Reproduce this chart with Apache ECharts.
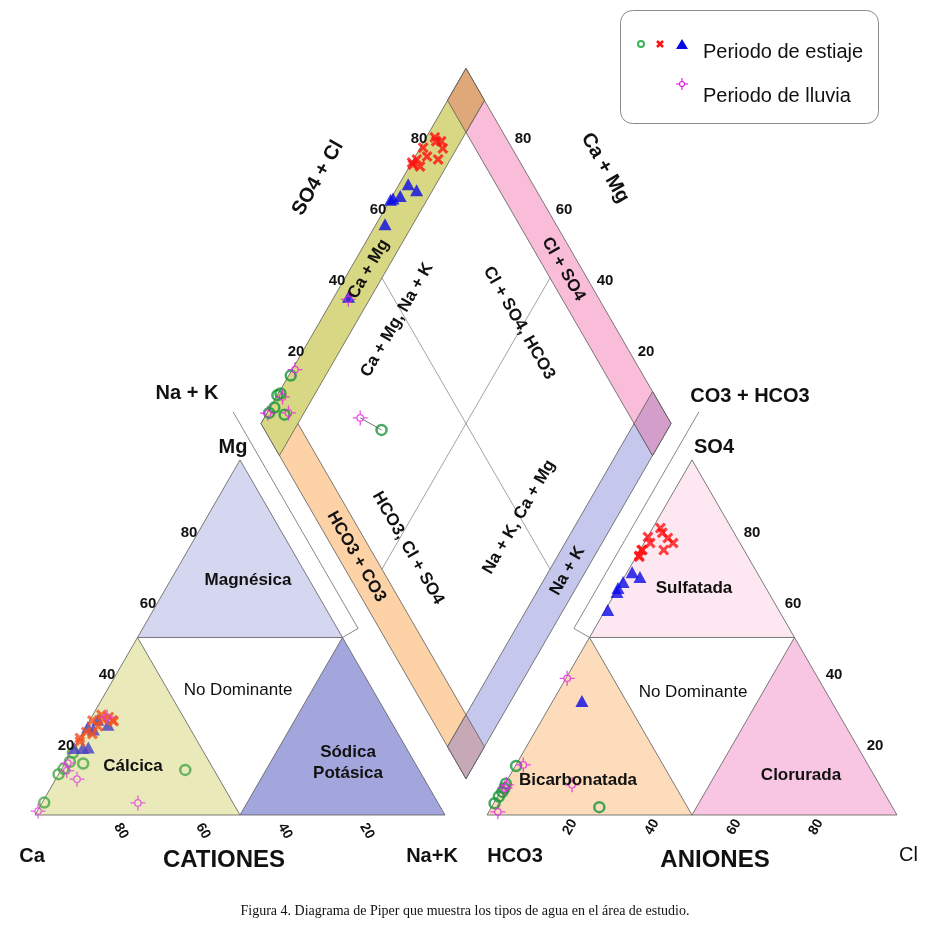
<!DOCTYPE html>
<html>
<head>
<meta charset="utf-8">
<title>Diagrama de Piper</title>
<script src="https://cdn.jsdelivr.net/npm/echarts@6/dist/echarts.min.js"></script>
<style>
html, body { margin: 0; padding: 0; background: #fff; }
#container { width: 927px; height: 935px; }
</style>
</head>
<body>
<div id="container"></div>
<script>
// muestras: [Ca, Mg, Na+K, HCO3, SO4, Cl] en % meq
var estiajeCirculos = [
    [96.0, 3.5, 0.5, 96.5, 3.3, 0.2],
    [86.5, 13.0, 0.5, 91.0, 8.8, 0.2],
    [81.0, 14.5, 4.5, 93.0, 6.5, 0.5],
    [82.0, 17.5, 0.5, 86.0, 13.8, 0.2],
    [84.0, 15.0, 1.0, 94.5, 5.2, 0.3],
    [88.5, 11.5, 0.0, 92.0, 7.5, 0.5],
    [57.0, 12.7, 30.3, 71.5, 2.2, 26.3]
]
var estiajeCruces = [
    [69.7, 28.2, 2.1, 17.3, 80.8, 1.9],
    [72.7, 26.6, 0.7, 21.6, 78.3, 0.1],
    [67.7, 26.7, 5.6, 16.9, 78.0, 5.1],
    [72.1, 25.0, 2.9, 21.9, 76.6, 1.5],
    [75.8, 23.4, 0.8, 24.8, 74.6, 0.6],
    [78.7, 20.7, 0.6, 26.5, 72.7, 0.8],
    [74.6, 22.8, 2.6, 25.0, 74.6, 0.4],
    [67.6, 26.4, 6.0, 19.6, 74.6, 5.8],
    [78.2, 21.7, 0.1, 26.4, 73.0, 0.6],
    [68.2, 27.6, 4.2, 16.3, 76.6, 7.1],
    [70.0, 27.0, 3.0, 17.5, 79.5, 3.0]
]
var estiajeTriangulos = [
    [74.7, 24.8, 0.5, 36.1, 63.9, 0.0],
    [71.3, 26.8, 1.9, 34.0, 65.6, 0.4],
    [69.5, 25.4, 5.1, 29.2, 67.0, 3.8],
    [73.7, 24.1, 2.2, 30.4, 68.4, 1.2],
    [78.9, 18.9, 2.2, 41.7, 57.7, 0.6],
    [77.5, 19.0, 3.5, 60.8, 32.1, 7.1],
    [81.0, 18.9, 0.1, 36.9, 62.8, 0.3]
]
var lluvia = [
    [98.7, 1.1, 0.2, 96.9, 0.9, 2.2],
    [84.7, 10.1, 5.2, 91.8, 7.6, 0.6],
    [84.7, 14.6, 0.7, 84.1, 14.1, 1.8],
    [68.6, 27.6, 3.8, 61.2, 38.5, 0.3],
    [73.2, 3.4, 23.4, 75.0, 8.5, 16.5],
    [86.0, 12.5, 1.5, 91.0, 8.5, 0.5]
]
// mismo sitio en los dos periodos (unidos en el rombo)
var enlace = [6, 4]
var ticks = [20, 40, 60, 80]

// geometria: 1 unidad = 1 %, 4.1 px por unidad
var U = 4.1, OX = 35, OY = 815, ANCHO = 927, ALTO = 935
var S3 = Math.sqrt(3) / 2
var GAP = 42 / U
var RX = 100 + GAP
var BX = 100 + GAP / 2, BY = GAP * S3
var BANDA = 9

function cation(ca, mg, nak){ return [nak + mg / 2, mg * S3] }
function anion(hco3, so4, cl){ return [RX + cl + so4 / 2, so4 * S3] }
function rombo(camg, so4cl){ return [BX + (so4cl - camg) / 2, BY + (camg + so4cl) * S3] }
function enRombo(m){ return rombo(m[0] + m[1], m[4] + m[5]) }

var LINEA = '#5a5a5a'
var shapes = []
function poly(pts, fill){ shapes.push({kind: 'polygon', pts: pts, fill: fill, stroke: LINEA, lw: 0.8}) }
function linea(pts, stroke, lw){ shapes.push({kind: 'polyline', pts: pts, stroke: stroke, lw: lw}) }

// zonas de los triangulos
var zonasCationes = [
    {v: [[100, 0, 0], [50, 0, 50], [50, 50, 0]], color: '#e9e9ba'},
    {v: [[0, 100, 0], [50, 50, 0], [0, 50, 50]], color: '#d5d6ef'},
    {v: [[0, 0, 100], [0, 50, 50], [50, 0, 50]], color: '#a3a5dd'}
]
var zonasAniones = [
    {v: [[100, 0, 0], [50, 50, 0], [50, 0, 50]], color: '#fcdcbb'},
    {v: [[0, 100, 0], [50, 50, 0], [0, 50, 50]], color: '#fde8f2'},
    {v: [[0, 0, 100], [0, 50, 50], [50, 0, 50]], color: '#f8c6e2'}
]
zonasCationes.forEach(function(z){ poly(z.v.map(function(p){ return cation(p[0], p[1], p[2]) }), z.color) })
zonasAniones.forEach(function(z){ poly(z.v.map(function(p){ return anion(p[0], p[1], p[2]) }), z.color) })

// franjas del rombo  [Ca+Mg, SO4+Cl]
var franjas = [
    {v: [[0, 0], [100, 0], [100, BANDA], [0, BANDA]], color: '#fdd2a6'},
    {v: [[0, 0], [BANDA, 0], [BANDA, 100], [0, 100]], color: '#c5c8ec'},
    {v: [[0, 100 - BANDA], [100, 100 - BANDA], [100, 100], [0, 100]], color: '#f9bdd9'},
    {v: [[100 - BANDA, 0], [100, 0], [100, 100], [100 - BANDA, 100]], color: '#d8d884'},
    {v: [[100 - BANDA, 100 - BANDA], [100, 100 - BANDA], [100, 100], [100 - BANDA, 100]], color: '#dfa878'},
    {v: [[0, 100 - BANDA], [BANDA, 100 - BANDA], [BANDA, 100], [0, 100]], color: '#d39fca'},
    {v: [[0, 0], [BANDA, 0], [BANDA, BANDA], [0, BANDA]], color: '#c6a8b6'}
]
franjas.forEach(function(f){ poly(f.v.map(function(p){ return rombo(p[0], p[1]) }), f.color) })

// lineas centrales del rombo
linea([rombo(50, BANDA), rombo(50, 100 - BANDA)], '#8c8c8c', 0.8)
linea([rombo(BANDA, 50), rombo(100 - BANDA, 50)], '#8c8c8c', 0.8)

// tiras blancas junto a los triangulos
function desde(p, d, s, n, w){ return [p[0] + d[0] * s + n[0] * w, p[1] + d[1] * s + n[1] * w] }
var c1 = [50, 100 * S3], d1 = [0.5, -S3], n1 = [S3, 0.5]
linea([desde(c1, d1, -11, n1, 4.4), desde(c1, d1, 50, n1, 4.4), desde(c1, d1, 50, n1, 0)], '#6a6a6a', 0.8)
var c2 = [RX + 50, 100 * S3], d2 = [-0.5, -S3], n2 = [-S3, 0.5]
linea([desde(c2, d2, -11, n2, 4.4), desde(c2, d2, 50, n2, 4.4), desde(c2, d2, 50, n2, 0)], '#6a6a6a', 0.8)

// enlace entre periodos
linea([enRombo(estiajeCirculos[enlace[0]]), enRombo(lluvia[enlace[1]])], '#555', 0.8)

// etiquetas de los ejes y de las franjas
var F_TICK = 'bold 15px "Liberation Sans", Arial, sans-serif'
var F_BASE = 'bold 14px "Liberation Sans", Arial, sans-serif'
var FD = 'bold 17px "Liberation Sans", Arial, sans-serif'
var etiquetas = []
function etq(pt, txt, dx, dy, rot, font){ etiquetas.push({pt: pt, txt: txt, dx: dx, dy: dy, rot: rot, font: font}) }
ticks.forEach(function(v){
    etq(cation(100 - v, v, 0), String(v), -10, 2, 0, F_TICK)
    etq(cation(v, 0, 100 - v), String(v), 4, 16, -60, F_BASE)
    etq(anion(100 - v, 0, v), String(v), 1, 12, 60, F_BASE)
    etq(anion(0, v, 100 - v), String(v), 19, 2, 0, F_TICK)
    etq(rombo(100, v), String(v), -6, -1, 0, F_TICK)
    etq(rombo(v, 100), String(v), 16, -1, 0, F_TICK)
})
etq(rombo(100 - BANDA / 2, 48), 'Ca + Mg', 0, 0, 60, FD)
etq(rombo(48, 100 - BANDA / 2), 'Cl + SO4', 0, 0, -60, FD)
etq(rombo(58, BANDA / 2), 'HCO3 + CO3', 0, 0, -60, FD)
etq(rombo(BANDA / 2, 54), 'Na + K', 0, 0, 60, FD)

// puntos
function serie(muestras, tri){
    var out = []
    muestras.forEach(function(m){
        out.push({value: cation(m[0], m[1], m[2]), itemStyle: tri})
        out.push({value: enRombo(m)})
        out.push({value: anion(m[3], m[4], m[5])})
    })
    return out
}

var VERDE = '#17963a', ROJO = '#ff1010', AZUL = '#0a0ae6', MAGENTA = '#e324e3'
var CRUZ = 'path://M0,2L2,0L5,3L8,0L10,2L7,5L10,8L8,10L5,7L2,10L0,8L3,5Z'
var ESTRELLA = 'path://M0,-7L0,-3M0,3L0,7M-7,0L-3,0M3,0L7,0M3,0A3,3,0,1,1,-3,0A3,3,0,1,1,3,0'

var dom = document.getElementById('container')
var myChart = echarts.init(dom, null, {renderer: 'canvas'})

var TXT = '#111'
function texto(x, y, t, font, rotDeg, align){
    return {
        type: 'text', x: x, y: y, rotation: (rotDeg || 0) * Math.PI / 180, silent: true, z: 50,
        style: {text: t, font: font, fill: TXT, textAlign: align || 'center', textVerticalAlign: 'middle'}
    }
}
var FT = 'bold 20px "Liberation Sans", Arial, sans-serif'
var FZ = 'bold 17px "Liberation Sans", Arial, sans-serif'
var FN = '17px "Liberation Sans", Arial, sans-serif'
var FL = '20px "Liberation Sans", Arial, sans-serif'

var graficos = [
    texto(318, 178, 'SO4 + Cl', FT, 60),
    texto(605, 168, 'Ca + Mg', FT, -60),
    texto(187, 393, 'Na + K', FT),
    texto(750, 396, 'CO3 + HCO3', FT),
    texto(233, 447, 'Mg', FT),
    texto(714, 447, 'SO4', FT),
    texto(32, 856, 'Ca', FT),
    texto(432, 856, 'Na+K', FT),
    texto(515, 856, 'HCO3', FT),
    texto(899, 855, 'Cl', FL, 0, 'left'),
    texto(224, 860, 'CATIONES', 'bold 24px "Liberation Sans", Arial, sans-serif'),
    texto(715, 860, 'ANIONES', 'bold 24px "Liberation Sans", Arial, sans-serif'),
    // interior del rombo
    texto(397, 320, 'Ca + Mg, Na + K', FD, 60),
    texto(519, 323, 'Cl + SO4, HCO3', FD, -60),
    texto(408, 548, 'HCO3, Cl + SO4', FD, -60),
    texto(519, 517, 'Na + K, Ca + Mg', FD, 60),
    // zonas
    texto(248, 580, 'Magnésica', FZ),
    texto(238, 690, 'No Dominante', FN),
    texto(133, 766, 'Cálcica', FZ),
    texto(348, 752, 'Sódica', FZ),
    texto(348, 773, 'Potásica', FZ),
    texto(694, 588, 'Sulfatada', FZ),
    texto(693, 692, 'No Dominante', FN),
    texto(578, 780, 'Bicarbonatada', FZ),
    texto(801, 775, 'Clorurada', FZ),
    // leyenda
    {type: 'rect', z: 40, silent: true, shape: {x: 620.5, y: 10.5, width: 258, height: 113, r: 12},
        style: {fill: '#fff', stroke: '#8c8c8c', lineWidth: 1}},
    {type: 'circle', z: 41, silent: true, shape: {cx: 641, cy: 44, r: 3}, style: {fill: 'none', stroke: '#3cb45a', lineWidth: 2}},
    {type: 'line', z: 41, silent: true, shape: {x1: 657, y1: 41, x2: 663, y2: 47}, style: {stroke: ROJO, lineWidth: 2.5}},
    {type: 'line', z: 41, silent: true, shape: {x1: 663, y1: 41, x2: 657, y2: 47}, style: {stroke: ROJO, lineWidth: 2.5}},
    {type: 'polygon', z: 41, silent: true, shape: {points: [[676, 49], [688, 49], [682, 39]]}, style: {fill: AZUL}},
    {type: 'circle', z: 41, silent: true, shape: {cx: 682, cy: 84, r: 2.5}, style: {fill: 'none', stroke: MAGENTA, lineWidth: 1.2}},
    {type: 'polyline', z: 41, silent: true, shape: {points: [[682, 78], [682, 81.5]]}, style: {stroke: MAGENTA, lineWidth: 1.2}},
    {type: 'polyline', z: 41, silent: true, shape: {points: [[682, 86.5], [682, 90]]}, style: {stroke: MAGENTA, lineWidth: 1.2}},
    {type: 'polyline', z: 41, silent: true, shape: {points: [[676, 84], [679.5, 84]]}, style: {stroke: MAGENTA, lineWidth: 1.2}},
    {type: 'polyline', z: 41, silent: true, shape: {points: [[684.5, 84], [688, 84]]}, style: {stroke: MAGENTA, lineWidth: 1.2}},
    texto(703, 52, 'Periodo de estiaje', FL, 0, 'left'),
    texto(703, 96, 'Periodo de lluvia', FL, 0, 'left'),
    texto(465, 911, 'Figura 4. Diagrama de Piper que muestra los tipos de agua en el área de estudio.',
        '14px "Liberation Serif", "Times New Roman", serif')
]

var option = {
    animation: false,
    grid: {left: 0, right: 0, top: 0, bottom: 0},
    xAxis: {type: 'value', min: -OX / U, max: (ANCHO - OX) / U, show: false},
    yAxis: {type: 'value', min: -(ALTO - OY) / U, max: OY / U, show: false},
    graphic: graficos,
    series: [
        {
            type: 'custom', z: 1, silent: true,
            data: shapes.map(function(s, i){ return [s.pts[0][0], s.pts[0][1], i] }),
            renderItem: function(params, api){
                var s = shapes[params.dataIndex]
                return {
                    type: s.kind,
                    shape: {points: s.pts.map(function(p){ return api.coord(p) })},
                    style: {fill: s.kind == 'polygon' ? s.fill : 'none', stroke: s.stroke, lineWidth: s.lw}
                }
            }
        },
        {
            type: 'custom', z: 6, silent: true,
            data: etiquetas.map(function(e, i){ return [e.pt[0], e.pt[1], i] }),
            renderItem: function(params, api){
                var e = etiquetas[params.dataIndex]
                var c = api.coord(e.pt)
                return {
                    type: 'text', x: c[0] + e.dx, y: c[1] + e.dy, rotation: e.rot * Math.PI / 180,
                    style: {text: e.txt, font: e.font, fill: TXT, textAlign: 'center', textVerticalAlign: 'middle'}
                }
            }
        },
        {
            type: 'scatter', z: 3, silent: true, symbol: 'circle', symbolSize: 10,
            itemStyle: {color: 'rgba(0,0,0,0)', borderColor: VERDE, borderWidth: 2.5},
            data: serie(estiajeCirculos, {borderColor: '#46a846'})
        },
        {
            type: 'scatter', z: 4, silent: true, symbol: 'triangle', symbolSize: [13, 12],
            itemStyle: {color: AZUL},
            data: serie(estiajeTriangulos, {color: '#4a40c0'})
        },
        {
            type: 'scatter', z: 4, silent: true, symbol: CRUZ, symbolSize: 11,
            itemStyle: {color: ROJO},
            data: serie(estiajeCruces, {color: '#f25022'})
        },
        {
            type: 'scatter', z: 5, silent: true, symbol: ESTRELLA, symbolSize: 15,
            itemStyle: {color: 'rgba(0,0,0,0)', borderColor: MAGENTA, borderWidth: 1.3},
            data: serie(lluvia, {borderColor: '#e040e0'})
        }
    ]
}

myChart.setOption(option)
window.addEventListener('resize', myChart.resize)
</script>
</body>
</html>
